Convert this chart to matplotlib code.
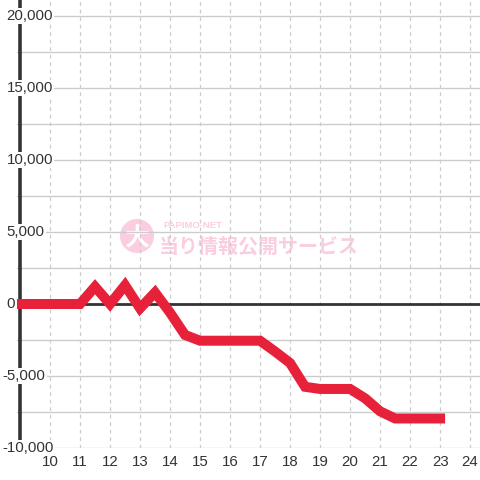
import matplotlib
matplotlib.use("Agg")
import matplotlib.pyplot as plt
from matplotlib.patches import Circle
from matplotlib.transforms import blended_transform_factory

# hourly difference samples (every half hour)
hours = [9.0, 9.5, 10.0, 10.5, 11.0, 11.5, 12.0, 12.5, 13.0, 13.5, 14.0, 14.5,
         15.0, 15.5, 16.0, 16.5, 17.0, 17.5, 18.0, 18.5, 19.0, 19.5, 20.0,
         20.5, 21.0, 21.5, 22.0, 22.5, 23.0]
diff = [0, 0, 0, 0, 0, 1200, 0, 1300, -300, 800, -600, -2150,
        -2550, -2550, -2550, -2550, -2550, -3300, -4100, -5750, -5900, -5900, -5900,
        -6550, -7450, -7950, -7950, -7950, -7950]

yticks = [-10000, -5000, 0, 5000, 10000, 15000, 20000]
ygrid = [-10000, -7500, -5000, -2500, 2500, 5000, 7500, 10000, 12500, 15000, 17500, 20000]
xticks = list(range(10, 25))

plt.rcParams["font.family"] = ["Liberation Sans", "DejaVu Sans"]
fig = plt.figure(figsize=(4.8, 4.8), dpi=100)
ax = fig.add_axes([17 / 480, 32 / 480, 463 / 480, 448 / 480])
ax.set_xlim(8.9, 24.33)
ax.set_ylim(-10000, 21111)
for s in ax.spines.values():
    s.set_visible(False)
ax.set_xticks([])
ax.set_yticks([])

for y in ygrid:
    ax.axhline(y, color="#cccccc", lw=1, zorder=1)
for x in xticks:
    ax.axvline(x, color="#cccccc", lw=0.9, ls=(0, (3, 3)), zorder=1)
ax.axhline(0, color="#333333", lw=2, zorder=2)
ax.axvline(9, color="#333333", lw=2.6, zorder=2)

# watermark (figure pixel positions), drawn under the grid
wm = "#fbcde0"
ftr = fig.transFigure
ax.add_patch(Circle((137 / 480, 1 - 236 / 480), 17 / 480, transform=ftr,
                    color=wm, zorder=0.5, lw=0))
ax.text(137 / 480, 1 - 238 / 480, "大", transform=ftr, color="white",
        fontsize=18, fontweight="bold", ha="center", va="center",
        family=["Noto Sans CJK JP"], zorder=0.6)
ax.text(163 / 480, 1 - 226 / 480, "PAPIMO-NET", transform=ftr, color=wm,
        fontsize=6.8, fontweight="bold", ha="left", va="center", zorder=0.6)
ax.text(159 / 480, 1 - 246 / 480, "当り情報公開サービス", transform=ftr,
        color=wm, fontsize=14.4, fontweight="bold", ha="left", va="center",
        family=["Noto Sans CJK JP"], zorder=0.6)

tr = blended_transform_factory(fig.transFigure, ax.transData)
for y in yticks:
    x0 = 2.5 if y < 0 else 6.5
    ax.text(x0 / 480, y, f"{y:,}", transform=tr, ha="left", va="center",
            fontsize=10.8, color="#333333", zorder=4,
            bbox=dict(facecolor="white", edgecolor="none", pad=1))

ax.plot(hours, diff, color="#e8213a", lw=7.2, solid_capstyle="projecting",
        solid_joinstyle="miter", zorder=5)

tx = blended_transform_factory(ax.transData, ax.transAxes)
for x in xticks:
    ax.text(x, -14 / 448, str(x), transform=tx, ha="center", va="center",
            fontsize=10.8, color="#333333", clip_on=False)

fig.savefig("out.png", dpi=100, facecolor="white")
